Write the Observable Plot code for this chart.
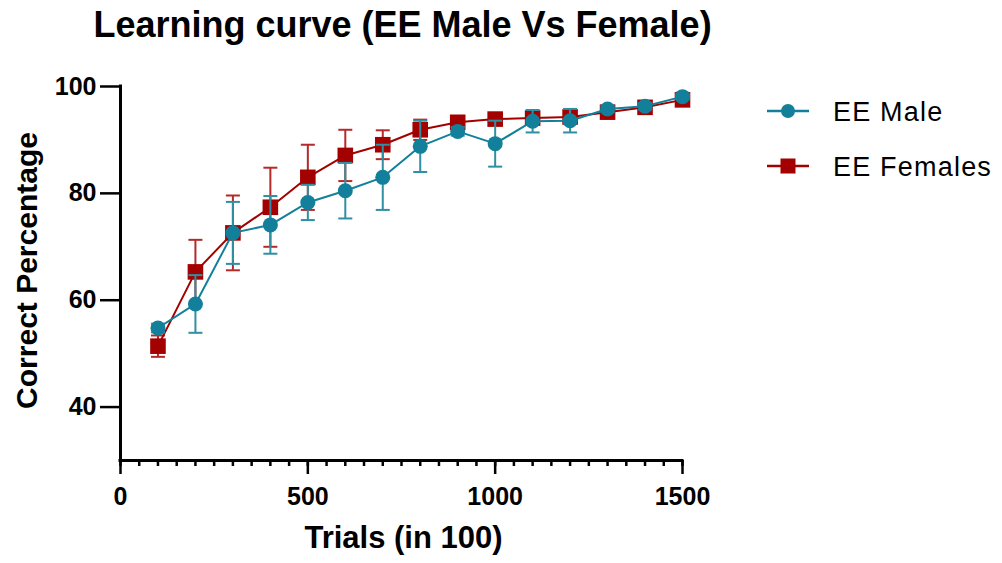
<!DOCTYPE html>
<html>
<head>
<meta charset="utf-8">
<script src="https://cdn.jsdelivr.net/npm/d3@7"></script>
<script src="https://cdn.jsdelivr.net/npm/@observablehq/plot@0.6"></script>
<style>
  html, body { margin: 0; padding: 0; background: #fff; }
  #wrap { position: relative; width: 1002px; height: 563px; }
  #legend { position: absolute; left: 0; top: 0; pointer-events: none; }
</style>
</head>
<body>
<div id="wrap"></div>
<script>
// ---- data ----
const trials = [100, 200, 300, 400, 500, 600, 700, 800, 900, 1000, 1100, 1200, 1300, 1400, 1500];
const maleMean = [54.8, 59.3, 72.6, 74.1, 78.3, 80.5, 83.0, 88.8, 91.6, 89.3, 93.5, 93.6, 95.8, 96.3, 98.1];
const maleErr  = [0.8, 5.4, 5.8, 5.4, 3.3, 5.2, 6.1, 4.8, 0.8, 4.3, 2.1, 2.2, 0.6, 0.6, 0.5];
const femaleMean = [51.4, 65.3, 72.6, 77.4, 83.0, 87.1, 89.1, 91.9, 93.3, 93.9, 94.1, 94.3, 95.2, 96.1, 97.5];
const femaleErr  = [2.0, 6.0, 7.0, 7.4, 6.1, 4.8, 2.7, 1.9, 0.8, 0.8, 1.0, 1.2, 0.6, 0.6, 0.5];
const seriesNames = ["EE Male", "EE Females"];
const yTicks = [40, 60, 80, 100];
const xMajorTicks = [0, 500, 1000, 1500];
const xMinorTicks = d3.range(0, 1501, 50);
const xDomain = [0, 1500];
const yDomain = [30, 100];
const titleText = "Learning curve (EE Male Vs Female)";
const xLabel = "Trials (in 100)";
const yLabel = "Correct Percentage";

const teal = "#12809a", tealBar = "#2f8fa3";
const red = "#a30000", redBar = "#b42a2a";

const rows = (means, errs) => trials.map((t, i) => ({
  trial: t, mean: means[i], lo: means[i] - errs[i], hi: means[i] + errs[i]
}));
const male = rows(maleMean, maleErr);
const female = rows(femaleMean, femaleErr);

const capSymbol = { draw(ctx, size) { const h = Math.sqrt(size / Math.PI); ctx.moveTo(-h, 0); ctx.lineTo(h, 0); } };

const errMarks = (data, color) => [
  Plot.ruleX(data, {x: "trial", y1: "lo", y2: "hi", stroke: color, strokeWidth: 2}),
  Plot.dot(data, {x: "trial", y: "hi", symbol: capSymbol, r: 7, stroke: color, strokeWidth: 2, fill: "none"}),
  Plot.dot(data, {x: "trial", y: "lo", symbol: capSymbol, r: 7, stroke: color, strokeWidth: 2, fill: "none"})
];

const font = "'Liberation Sans', Arial, Helvetica, sans-serif";
const plain = d3.format("d");

const chart = Plot.plot({
  width: 1002,
  height: 563,
  marginLeft: 120,
  marginRight: 320,
  marginTop: 86,
  marginBottom: 103,
  x: {domain: xDomain},
  y: {domain: yDomain},
  style: {fontFamily: font, color: "#000", background: "#fff", overflow: "visible"},
  marks: [
    // female (drawn below)
    ...errMarks(female, redBar),
    Plot.line(female, {x: "trial", y: "mean", stroke: red, strokeWidth: 2}),
    Plot.dot(female, {x: "trial", y: "mean", symbol: "square", r: 8.8, fill: red}),
    // male (drawn on top)
    ...errMarks(male, tealBar),
    Plot.line(male, {x: "trial", y: "mean", stroke: teal, strokeWidth: 2}),
    Plot.dot(male, {x: "trial", y: "mean", symbol: "circle", r: 7.5, fill: teal}),
    // axes
    Plot.ruleX([xDomain[0]], {y1: yDomain[0], y2: yDomain[1], stroke: "#000", strokeWidth: 3, strokeLinecap: "square"}),
    Plot.ruleY([yDomain[0]], {x1: xDomain[0], x2: xDomain[1], stroke: "#000", strokeWidth: 3, strokeLinecap: "square"}),
    Plot.axisY(yTicks, {tickSize: 20, tickPadding: 4, fontSize: 25, fontWeight: "bold", strokeWidth: 2.5, tickFormat: plain, label: null}),
    Plot.axisX(xMajorTicks, {tickSize: 14, tickPadding: 13, fontSize: 25, fontWeight: "bold", strokeWidth: 2.5, tickFormat: plain, label: null}),
    Plot.axisX(xMinorTicks, {tickSize: 6, tickFormat: () => "", strokeWidth: 2.5, label: null}),
    // titles
    Plot.text([titleText], {text: d => d, frameAnchor: "top", textAnchor: "middle", dx: 1, dy: -61, fontSize: 36, fontWeight: "bold", lineAnchor: "middle"}),
    Plot.text([yLabel], {text: d => d, frameAnchor: "left", textAnchor: "middle", rotate: -90, dx: -93, dy: -3, fontSize: 30, fontWeight: "bold", lineAnchor: "middle"}),
    Plot.text([xLabel], {text: d => d, frameAnchor: "bottom", textAnchor: "middle", dx: 2, dy: 78, fontSize: 31, fontWeight: "bold", lineAnchor: "middle"})
  ]
});

const wrap = document.getElementById("wrap");
wrap.appendChild(chart);

// legend
const lg = d3.select(wrap).append("svg").attr("id", "legend").attr("width", 1002).attr("height", 563);
const legendItems = [
  {name: seriesNames[0], color: teal, shape: "circle", y: 111},
  {name: seriesNames[1], color: red, shape: "square", y: 166}
];
legendItems.forEach(it => {
  const g = lg.append("g");
  g.append("line").attr("x1", 767).attr("x2", 809).attr("y1", it.y).attr("y2", it.y)
    .attr("stroke", it.color).attr("stroke-width", 2.5);
  if (it.shape === "circle") {
    g.append("circle").attr("cx", 788).attr("cy", it.y).attr("r", 7).attr("fill", it.color);
  } else {
    g.append("rect").attr("x", 788 - 7.5).attr("y", it.y - 7.5).attr("width", 15).attr("height", 15).attr("fill", it.color);
  }
  g.append("text").attr("x", 833).attr("y", it.y + 10)
    .attr("font-family", font).attr("font-size", 27).attr("letter-spacing", 1.2)
    .attr("fill", "#000").text(it.name);
});
</script>
</body>
</html>
